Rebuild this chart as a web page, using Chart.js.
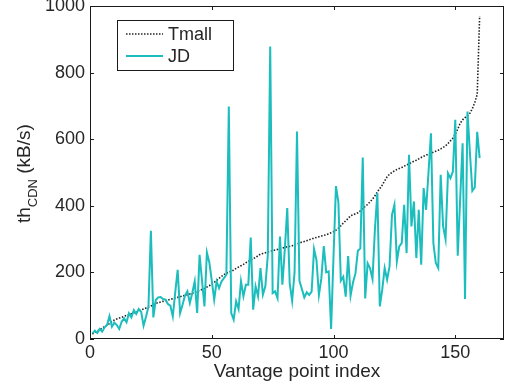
<!DOCTYPE html>
<html>
<head>
<meta charset="utf-8">
<script src="https://cdn.jsdelivr.net/npm/chart.js@4.4.1/dist/chart.umd.min.js"></script>
<style>
html,body{margin:0;padding:0;background:#fff;}
#wrap{width:510px;height:390px;position:relative;}
</style>
</head>
<body>
<div id="wrap"><canvas id="c" width="510" height="390"></canvas></div>
<script>
// ---- data ----
const seriesNames = ["Tmall", "JD"];
const xTicks = [0, 50, 100, 150];
const yTicks = [0, 200, 400, 600, 800, 1000];
const xLabel = "Vantage point index";
const yLabelMain = "th";
const yLabelSub = "CDN";
const yLabelUnit = " (kB/s)";

const tmall = [
  15, 20, 24, 28, 33, 37, 42, 46, 52, 57,
  60, 63, 65, 68, 71, 73, 76, 79, 81, 84, 87, 90, 93, 96, 99,
  103, 107, 109, 111, 113, 115, 117, 119, 121, 123, 125, 127, 129, 131, 133,
  135, 137, 140, 143, 146, 149, 152, 156, 160, 165,
  170, 176, 182, 188, 193, 198,
  200, 203, 207, 212, 216, 220, 224, 229, 233, 237, 241, 245, 250, 255,
  257, 259, 261, 263, 265, 267, 269, 271, 273, 275, 277, 278, 280, 282,
  285, 288, 291, 293, 295, 298, 300, 303, 305, 307, 309, 311, 313, 316, 319, 322,
  327, 333, 340, 348, 355, 362, 370,
  373, 376, 379, 385, 392, 398, 404, 412, 420, 430, 442, 452,
  462, 475, 487, 495, 500, 505, 509, 512,
  515, 519, 523, 526, 530, 534, 537,
  541, 545, 549, 552, 555, 558,
  561, 564, 567, 571, 575, 580, 587, 595, 603,
  615, 630, 648, 658, 665, 671, 678,
  692, 710, 735, 970
];

const jd = [
  17, 25, 18, 30, 22, 35, 42, 69, 37, 49,
  42, 30, 52, 62, 50, 77, 65, 87, 75, 90,
  82, 40, 67, 97, 325, 65, 117, 125, 126, 120,
  118, 105, 100, 68, 140, 208, 78, 103, 130, 143,
  108, 138, 173, 78, 253, 175, 98, 260, 230, 175,
  118, 173, 153, 173, 183, 193, 698, 78, 58, 113,
  90, 173, 128, 163, 163, 305, 88, 158, 128, 213,
  133, 158, 250, 878, 138, 143, 123, 308, 163, 270,
  393, 168, 115, 200, 623, 175, 150, 125, 140, 132,
  142, 270, 237, 132, 182, 279, 200, 203, 30, 250,
  459, 410, 175, 187, 127, 249, 130, 170, 197, 265,
  272, 545, 122, 227, 212, 180, 330, 438, 98, 148,
  213, 178, 218, 373, 403, 233, 278, 288, 403, 258,
  553, 338, 413, 243, 388, 223, 453, 388, 500, 618,
  288, 228, 213, 493, 338, 300, 498, 483, 503, 658,
  250, 420, 588, 120, 683, 560, 445, 455, 622, 543
];

// ---- build ----
const toPts = arr => arr.map((v, i) => ({x: i + 1, y: v}));
const TXT = '#262626';
const FONT = '"Liberation Sans", Arial, Helvetica, sans-serif';
const JD_COLOR = 'rgb(28,189,189)';

const decor = {
  id: 'decor',
  afterDraw(chart) {
    const {ctx, chartArea: a, scales: {x, y}} = chart;
    ctx.save();
    // box
    ctx.strokeStyle = '#1a1a1a';
    ctx.lineWidth = 1;
    ctx.strokeRect(a.left + 0.5, a.top + 0.5, a.right - a.left - 1, a.bottom - a.top - 1);
    // inward ticks
    const tl = 4;
    ctx.beginPath();
    xTicks.forEach(v => {
      const px = Math.round(x.getPixelForValue(v)) + 0.5;
      ctx.moveTo(px, a.bottom); ctx.lineTo(px, a.bottom - tl);
      ctx.moveTo(px, a.top); ctx.lineTo(px, a.top + tl);
    });
    yTicks.forEach(v => {
      const py = Math.round(y.getPixelForValue(v)) + 0.5;
      ctx.moveTo(a.left, py); ctx.lineTo(a.left + tl, py);
      ctx.moveTo(a.right, py); ctx.lineTo(a.right - tl, py);
    });
    ctx.stroke();

    // x label
    ctx.fillStyle = TXT;
    ctx.font = '19px ' + FONT;
    ctx.textAlign = 'center';
    ctx.textBaseline = 'alphabetic';
    ctx.fillText(xLabel, (a.left + a.right) / 2, 377);

    // y label with subscript
    ctx.save();
    ctx.translate(29.5, 223);
    ctx.rotate(-Math.PI / 2);
    ctx.textAlign = 'left';
    ctx.font = '19px ' + FONT;
    ctx.fillText(yLabelMain, 0, 0);
    let off = ctx.measureText(yLabelMain).width;
    ctx.font = '13px ' + FONT;
    ctx.fillText(yLabelSub, off, 7);
    off += ctx.measureText(yLabelSub).width;
    ctx.font = '19px ' + FONT;
    ctx.fillText(yLabelUnit, off, 0);
    ctx.restore();

    // legend
    const lx = 117.5, ly = 20.5, lw = 116, lh = 50;
    ctx.fillStyle = '#fff';
    ctx.fillRect(lx, ly, lw, lh);
    ctx.strokeStyle = '#1a1a1a';
    ctx.lineWidth = 1;
    ctx.strokeRect(lx, ly, lw, lh);
    const rows = [
      {y: 34, color: '#222', dash: [1.5, 1.5], w: 1.5},
      {y: 56, color: JD_COLOR, dash: [], w: 2}
    ];
    rows.forEach((r, i) => {
      ctx.beginPath();
      ctx.setLineDash(r.dash);
      ctx.strokeStyle = r.color;
      ctx.lineWidth = r.w;
      ctx.moveTo(126, r.y); ctx.lineTo(163, r.y);
      ctx.stroke();
      ctx.setLineDash([]);
      ctx.fillStyle = TXT;
      ctx.font = '18px ' + FONT;
      ctx.textAlign = 'left';
      ctx.textBaseline = 'middle';
      ctx.fillText(seriesNames[i], 168, r.y + 1);
    });
    ctx.restore();
  }
};

new Chart(document.getElementById('c'), {
  type: 'line',
  data: {
    datasets: [
      {
        label: seriesNames[0], data: toPts(tmall), borderColor: '#222',
        borderWidth: 1.6, borderDash: [1.5, 1.6], pointRadius: 0, fill: false,
        tension: 0, order: 1
      },
      {
        label: seriesNames[1], data: toPts(jd), borderColor: JD_COLOR,
        borderWidth: 2, pointRadius: 0, fill: false, tension: 0, order: 0
      }
    ]
  },
  options: {
    responsive: false,
    animation: false,
    devicePixelRatio: 1,
    layout: {padding: {left: 0, right: 6, top: 6, bottom: 0}},
    plugins: {legend: {display: false}, tooltip: {enabled: false}},
    scales: {
      x: {
        type: 'linear', min: 0, max: 170,
        grid: {display: false, drawTicks: false},
        border: {display: false},
        afterBuildTicks: s => { s.ticks = xTicks.map(v => ({value: v})); },
        ticks: {color: TXT, font: {family: FONT, size: 18}, padding: 3, maxRotation: 0, autoSkip: false,
                callback: v => String(v)},
        afterFit: s => { s.height = 51; s.paddingLeft = 0; s.paddingRight = 0; }
      },
      y: {
        type: 'linear', min: 0, max: 1000,
        grid: {display: false, drawTicks: false},
        border: {display: false},
        afterBuildTicks: s => { s.ticks = yTicks.map(v => ({value: v})); },
        ticks: {color: TXT, font: {family: FONT, size: 18}, padding: 5, autoSkip: false,
                callback: v => String(v)},
        afterFit: s => { s.width = 90; s.paddingTop = 0; s.paddingBottom = 0; }
      }
    }
  },
  plugins: [decor]
});
</script>
</body>
</html>
